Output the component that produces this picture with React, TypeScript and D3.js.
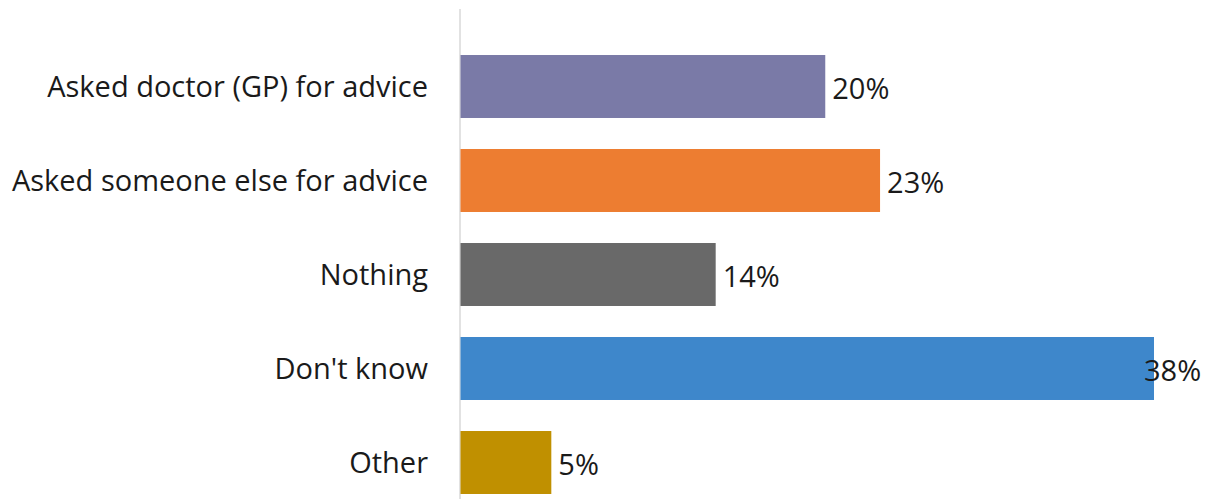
import React from "react";
import * as d3 from "d3";

const categories = [
  "Asked doctor (GP) for advice",
  "Asked someone else for advice",
  "Nothing",
  "Don't know",
  "Other",
];
const values = [20, 23, 14, 38, 5];
const colors = ["#7a7aa7", "#ed7d31", "#696969", "#3e87cb", "#c09000"];

const W = 1212;
const H = 499;
const axisX = 460;
const FONT = "'Open Sans', sans-serif";

export default function App() {
  const x = d3.scaleLinear().domain([0, 38]).range([axisX, 1154]);
  const y = d3
    .scaleBand<string>()
    .domain(categories)
    .range([39.5, 509.5])
    .paddingInner(0.33)
    .paddingOuter(0.165);

  return (
    <svg
      width={W}
      height={H}
      style={{ position: "absolute", left: 0, top: 0, background: "#fff" }}
    >
      <line x1={axisX} x2={axisX} y1={9} y2={H} stroke="#d9d9d9" strokeWidth={1.5} />
      {categories.map((c, i) => {
        const y0 = y(c)!;
        const bh = y.bandwidth();
        const xe = x(values[i]);
        const lx = Math.min(xe + 7, W - 68);
        return (
          <g key={c}>
            <rect x={axisX + 0.5} y={y0} width={xe - axisX - 0.5} height={bh} fill={colors[i]} />
            <text
              x={428}
              y={y0 + bh / 2}
              dy="0.35em"
              textAnchor="end"
              fontFamily={FONT}
              fontSize={29}
              fill="#1a1a1a"
            >
              {c}
            </text>
            <text
              x={lx}
              y={y0 + bh / 2 + 2}
              dy="0.35em"
              fontFamily={FONT}
              fontSize={29}
              fill="#1a1a1a"
            >
              {values[i]}%
            </text>
          </g>
        );
      })}
    </svg>
  );
}
